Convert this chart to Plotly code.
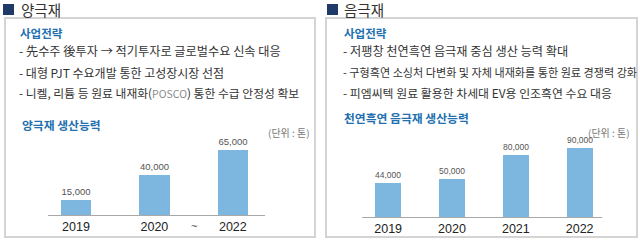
import plotly.graph_objects as go

W, H = 640, 240

# ---- data ----
cathode_years = ["2019", "2020", "2022"]
cathode_values = [15000, 40000, 65000]
anode_years = ["2019", "2020", "2021", "2022"]
anode_values = [44000, 50000, 80000, 90000]

left_header = "양극재"
right_header = "음극재"
strategy_label = "사업전략"
left_lines = [
    "- 先수주 後투자 → 적기투자로 글로벌수요 신속 대응",
    "- 대형 PJT 수요개발 통한 고성장시장 선점",
    "- 니켈, 리튬 등 원료 내재화(<span style='color:#8a8a8a;font-size:10.5px'>POSCO</span>) 통한 수급 안정성 확보",
]
right_lines = [
    "- 저팽창 천연흑연 음극재 중심 생산 능력 확대",
    "- 구형흑연 소싱처 다변화 및 자체 내재화를 통한 원료 경쟁력 강화",
    "- 피엠씨텍 원료 활용한 차세대 EV용 인조흑연 수요 대응",
]
left_chart_title = "양극재 생산능력"
right_chart_title = "천연흑연 음극재 생산능력"
unit_label = "(단위 : 톤)"

KR = "Noto Sans CJK KR"
BAR = "#7DB6DE"
BLUE = "#2370B0"
TXT = "#333333"


def X(px):
    return px / W


def Y(py):
    return 1 - py / H


fig = go.Figure()

fig.add_trace(go.Bar(
    x=list(range(len(cathode_years))), y=cathode_values,
    marker=dict(color=BAR, line=dict(width=0)), width=0.39,
    texttemplate="%{y:,}", textposition="outside", cliponaxis=False,
    textfont=dict(size=9.5, color="#555555", family="Liberation Sans"),
    xaxis="x", yaxis="y", hoverinfo="skip",
))
fig.add_trace(go.Bar(
    x=list(range(len(anode_years))), y=anode_values,
    marker=dict(color=BAR, line=dict(width=0)), width=0.41,
    texttemplate="%{y:,}", textposition="outside", cliponaxis=False,
    textfont=dict(size=9.5, color="#555555", family="Liberation Sans"),
    xaxis="x2", yaxis="y2", hoverinfo="skip",
))

tickfont = dict(size=12.5, color="#222222", family="Liberation Sans")
fig.update_layout(
    width=W, height=H, margin=dict(l=0, r=0, t=0, b=0),
    paper_bgcolor="white", plot_bgcolor="rgba(0,0,0,0)",
    showlegend=False, bargap=0,
    xaxis=dict(domain=[X(48), X(265)], range=[-0.357, 2.41],
               tickvals=list(range(len(cathode_years))), ticktext=cathode_years,
               showline=True, linecolor="#A8A8A8", linewidth=1, showgrid=False,
               zeroline=False, ticks="", tickfont=tickfont, fixedrange=True),
    yaxis=dict(domain=[Y(215), Y(140)], range=[0, 75000], visible=False,
               fixedrange=True),
    xaxis2=dict(domain=[X(362), X(602)], range=[-0.41, 3.35],
                tickvals=list(range(len(anode_years))), ticktext=anode_years,
                showline=True, linecolor="#A8A8A8", linewidth=1, showgrid=False,
                zeroline=False, ticks="", tickfont=tickfont, anchor="y2",
                fixedrange=True),
    yaxis2=dict(domain=[Y(217), Y(142)], range=[0, 97466], visible=False,
                anchor="x2", fixedrange=True),
)

shapes = []
# panel boxes
for x0, x1 in [(5, 315), (326, 637)]:
    shapes.append(dict(type="rect", xref="paper", yref="paper",
                       x0=X(x0), x1=X(x1), y0=Y(237), y1=Y(18),
                       line=dict(color="#D4D4D4", width=2), fillcolor="white",
                       layer="below"))
# header squares
for x0 in [3, 327]:
    shapes.append(dict(type="rect", xref="paper", yref="paper",
                       x0=X(x0), x1=X(x0 + 11), y0=Y(15), y1=Y(4),
                       line=dict(width=0), fillcolor="#1F3A68"))
fig.update_layout(shapes=shapes)

ann = []


def txt(x, y, s, size, color=TXT, bold=False, anchor="left"):
    ann.append(dict(xref="paper", yref="paper", x=X(x), y=Y(y),
                    text=("<b>%s</b>" % s) if bold else s, showarrow=False,
                    xanchor=anchor, yanchor="middle",
                    font=dict(size=size, color=color, family=KR)))


txt(19, 9.5, left_header, 14.5, "#333333")
txt(342, 9.5, right_header, 14.5, "#333333")
txt(18, 33, strategy_label, 11.5, BLUE, bold=True)
txt(342, 33, strategy_label, 11.5, BLUE, bold=True)
left_sizes = [12.2, 12, 11.8]
right_sizes = [12.2, 11.1, 11.9]
for i, (s, fs) in enumerate(zip(left_lines, left_sizes)):
    txt(17, 51 + 21 * i, s, fs)
for i, (s, fs) in enumerate(zip(right_lines, right_sizes)):
    txt(341, 51 + 21 * i, s, fs)
txt(20, 124, left_chart_title, 11.8, BLUE, bold=True)
txt(342, 117, right_chart_title, 11.8, BLUE, bold=True)
txt(312, 132, unit_label, 10, "#777777", anchor="right")
txt(632, 132, unit_label, 10, "#777777", anchor="right")
# "~" between 2020 and 2022 on the cathode axis
ann.append(dict(xref="x", yref="paper", x=1.5, y=Y(226), text="~",
                showarrow=False, xanchor="center", yanchor="middle",
                font=dict(size=11, color="#444444", family="Liberation Sans")))
fig.update_layout(annotations=ann)

fig.write_html("out.html")
